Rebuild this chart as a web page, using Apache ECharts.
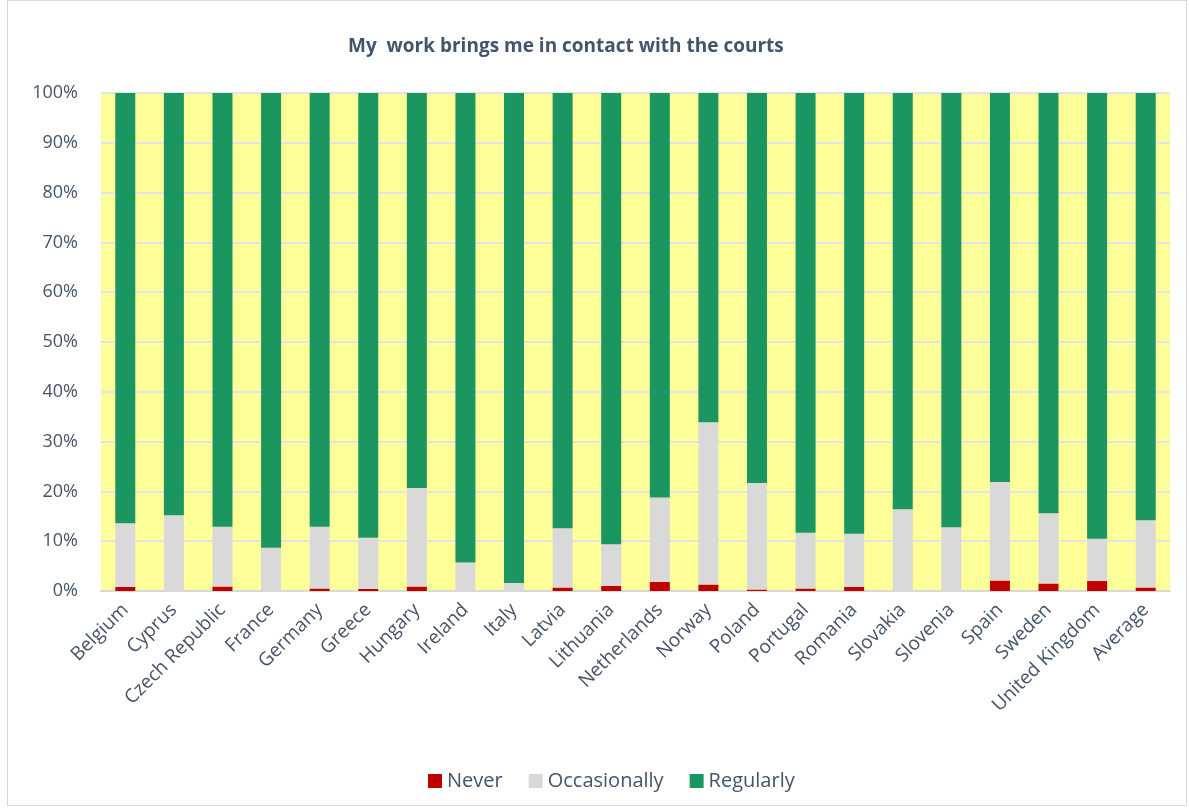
<!DOCTYPE html>
<html>
<head>
<meta charset="utf-8">
<script src="https://cdn.jsdelivr.net/npm/echarts@6/dist/echarts.min.js"></script>
<style>
  html, body { margin: 0; padding: 0; background: #ffffff; }
  #frame { position: absolute; left: 7px; top: 0px; width: 1180px; height: 806px; border: 1px solid #d9d9d9; box-sizing: border-box; }
  #chart { position: absolute; left: 0; top: 0; width: 1189px; height: 812px; }
</style>
</head>
<body>
<div id="frame"></div>
<div id="chart"></div>
<script>
// Countries surveyed, plus the overall average
const countries = ['Belgium', 'Cyprus', 'Czech Republic', 'France', 'Germany', 'Greece', 'Hungary',
  'Ireland', 'Italy', 'Latvia', 'Lithuania', 'Netherlands', 'Norway', 'Poland', 'Portugal',
  'Romania', 'Slovakia', 'Slovenia', 'Spain', 'Sweden', 'United Kingdom', 'Average'];

// Share of respondents (%) per answer
const never        = [0.8, 0.0, 0.9, 0.0, 0.5, 0.4, 0.9, 0.0, 0.0, 0.7, 1.0, 1.8, 1.3, 0.3, 0.5, 0.8, 0.0, 0.0, 2.1, 1.5, 2.0, 0.7];
const occasionally = [12.8, 15.2, 12.0, 8.7, 12.4, 10.3, 19.8, 5.7, 1.6, 11.9, 8.4, 17.0, 32.6, 21.4, 11.2, 10.7, 16.4, 12.8, 19.8, 14.1, 8.5, 13.5];
const regularly    = never.map((n, i) => +(100 - n - occasionally[i]).toFixed(1));

const yTicks = [0, 10, 20, 30, 40, 50, 60, 70, 80, 90, 100];

const textColor = '#44546a';
const font = 'Open Sans';

const chart = echarts.init(document.getElementById('chart'), null, { renderer: 'canvas' });

const barCommon = { type: 'bar', stack: 'total', barWidth: 20 };

chart.setOption({
  backgroundColor: 'transparent',
  animation: false,
  title: {
    text: 'My  work brings me in contact with the courts',
    left: 343,
    top: 32,
    textStyle: { color: textColor, fontFamily: font, fontWeight: 'bold', fontSize: 19 }
  },
  legend: {
    top: 766,
    left: 423,
    icon: 'rect',
    itemWidth: 14,
    itemHeight: 14,
    itemGap: 26,
    textStyle: { color: textColor, fontFamily: font, fontSize: 20 },
    data: ['Never', 'Occasionally', 'Regularly']
  },
  grid: {
    left: 101, right: 19, top: 93, bottom: 221,
    show: true, backgroundColor: '#ffff99', borderWidth: 0
  },
  xAxis: {
    type: 'category',
    data: countries,
    axisLine: { show: true, lineStyle: { color: '#d9d9d9', width: 2 } },
    axisTick: { show: false },
    axisLabel: {
      rotate: 45, interval: 0, margin: 16,
      color: textColor, fontFamily: font, fontSize: 19
    }
  },
  yAxis: {
    type: 'value',
    min: yTicks[0],
    max: yTicks[yTicks.length - 1],
    interval: 10,
    axisLine: { show: false },
    axisTick: { show: false },
    splitLine: { lineStyle: { color: '#e1e4ea', width: 2 } },
    axisLabel: {
      formatter: v => v + '%',
      margin: 23,
      color: textColor, fontFamily: font, fontSize: 18
    }
  },
  series: [
    Object.assign({ name: 'Never', data: never, itemStyle: { color: '#c00000' } }, barCommon),
    Object.assign({ name: 'Occasionally', data: occasionally, itemStyle: { color: '#d9d9d9' } }, barCommon),
    Object.assign({ name: 'Regularly', data: regularly, itemStyle: { color: '#1b9660' } }, barCommon)
  ]
});
</script>
</body>
</html>
